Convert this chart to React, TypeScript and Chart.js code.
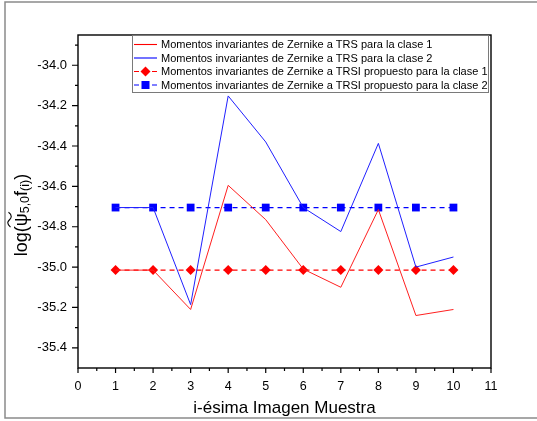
import React, { useEffect, useRef } from "react";
import { Chart, registerables } from "chart.js";

Chart.register(...registerables);

const muestras = [1, 2, 3, 4, 5, 6, 7, 8, 9, 10];
const trsClase1 = [-35.015, -35.015, -35.21, -34.595, -34.765, -35.01, -35.1, -34.715, -35.24, -35.21];
const trsClase2 = [-34.705, -34.705, -35.186, -34.152, -34.38, -34.705, -34.824, -34.387, -35.0, -34.95];
const trsiClase1 = [-35.015, -35.015, -35.015, -35.015, -35.015, -35.015, -35.015, -35.015, -35.015, -35.015];
const trsiClase2 = [-34.705, -34.705, -34.705, -34.705, -34.705, -34.705, -34.705, -34.705, -34.705, -34.705];

const legendLabels = [
  "Momentos invariantes de Zernike a TRS para la clase 1",
  "Momentos invariantes de Zernike a TRS para la clase 2",
  "Momentos invariantes de Zernike a TRSI propuesto para la clase 1",
  "Momentos invariantes de Zernike a TRSI propuesto para la clase 2",
];
const xTitle = "i-ésima Imagen Muestra";
const xMajorTicks = [0, 1, 2, 3, 4, 5, 6, 7, 8, 9, 10, 11];
const xMinorTicks = [0.5, 1.5, 2.5, 3.5, 4.5, 5.5, 6.5, 7.5, 8.5, 9.5, 10.5];
const yMajorTicks = [-35.4, -35.2, -35.0, -34.8, -34.6, -34.4, -34.2, -34.0];
const yMinorTicks = [-35.3, -35.1, -34.9, -34.7, -34.5, -34.3, -34.1, -33.9];

const FONT = "'Liberation Sans', Arial, sans-serif";

const framePlugin = {
  id: "frameAndExtras",
  beforeDraw(chart: any) {
    const ctx = chart.ctx;
    ctx.save();
    ctx.fillStyle = "#ffffff";
    ctx.fillRect(0, 0, chart.width, chart.height);
    ctx.strokeStyle = "#8a8a8a";
    ctx.lineWidth = 1.5;
    ctx.beginPath();
    ctx.moveTo(chart.width, 2);
    ctx.lineTo(5, 2);
    ctx.lineTo(5, 418);
    ctx.lineTo(chart.width, 418);
    ctx.stroke();
    ctx.restore();
  },
  afterDatasetsDraw(chart: any) {
    const ctx = chart.ctx;
    const { left, right, top, bottom } = chart.chartArea;
    const xs = chart.scales.x;
    const ys = chart.scales.y;
    ctx.save();
    ctx.strokeStyle = "#000000";
    ctx.lineWidth = 1.4;
    ctx.strokeRect(left, top, right - left, bottom - top);
    ctx.lineWidth = 1.2;
    ctx.beginPath();
    xMajorTicks.forEach((v) => {
      const px = xs.getPixelForValue(v);
      ctx.moveTo(px, bottom);
      ctx.lineTo(px, bottom + 5);
    });
    xMinorTicks.forEach((v) => {
      const px = xs.getPixelForValue(v);
      ctx.moveTo(px, bottom);
      ctx.lineTo(px, bottom + 3);
    });
    yMajorTicks.forEach((v) => {
      const py = ys.getPixelForValue(v);
      ctx.moveTo(left, py);
      ctx.lineTo(left - 6, py);
    });
    yMinorTicks.forEach((v) => {
      const py = ys.getPixelForValue(v);
      ctx.moveTo(left, py);
      ctx.lineTo(left - 3, py);
    });
    ctx.stroke();

    ctx.fillStyle = "#000000";
    ctx.font = `17px ${FONT}`;
    ctx.textAlign = "center";
    ctx.textBaseline = "middle";
    ctx.fillText(xTitle, (left + right) / 2, 408);

    ctx.save();
    ctx.translate(22, 215);
    ctx.rotate(-Math.PI / 2);
    const big = `18px ${FONT}`;
    const small = `12.5px ${FONT}`;
    const parts: { t: string; f: string; dy: number; psi?: boolean }[] = [
      { t: "log(", f: big, dy: 0 },
      { t: "ψ", f: big, dy: 0, psi: true },
      { t: "5,0", f: small, dy: 4 },
      { t: "f", f: big, dy: 0 },
      { t: "(i)", f: small, dy: 4 },
      { t: ")", f: big, dy: 0 },
    ];
    let total = 0;
    parts.forEach((p) => {
      ctx.font = p.f;
      total += ctx.measureText(p.t).width;
    });
    let x = -total / 2;
    ctx.textAlign = "left";
    ctx.textBaseline = "middle";
    parts.forEach((p) => {
      ctx.font = p.f;
      const w = ctx.measureText(p.t).width;
      ctx.fillText(p.t, x, p.dy);
      if (p.psi) {
        ctx.beginPath();
        ctx.lineWidth = 1.1;
        const y0 = -12.5;
        ctx.moveTo(x - 1, y0 + 1);
        ctx.bezierCurveTo(x + w * 0.2, y0 - 3, x + w * 0.35, y0 - 2, x + w * 0.5, y0);
        ctx.bezierCurveTo(x + w * 0.65, y0 + 2, x + w * 0.85, y0 + 3, x + w + 1, y0 - 1);
        ctx.stroke();
      }
      x += w;
    });
    ctx.restore();
    ctx.restore();
  },
  afterDraw(chart: any) {
    const ctx = chart.ctx;
    ctx.save();
    const bx = 132, by = 35, bw = 357, bh = 58;
    ctx.fillStyle = "#ffffff";
    ctx.fillRect(bx, by, bw, bh);
    ctx.strokeStyle = "#7a7a7a";
    ctx.lineWidth = 1;
    ctx.strokeRect(bx + 0.5, by + 0.5, bw - 1, bh - 1);
    const rows = [44.5, 58, 71.5, 85];
    const colors = ["#ff0000", "#0000ff", "#ff0000", "#0000ff"];
    chart.data.datasets.forEach((ds: any, i: number) => {
      const y = rows[i];
      ctx.strokeStyle = colors[i];
      ctx.lineWidth = 1.1;
      ctx.setLineDash(i >= 2 ? [5, 4] : []);
      ctx.beginPath();
      ctx.moveTo(134, y);
      ctx.lineTo(157, y);
      ctx.stroke();
      ctx.setLineDash([]);
      ctx.fillStyle = colors[i];
      if (i === 2) {
        ctx.beginPath();
        ctx.moveTo(145.5 - 5, y);
        ctx.lineTo(145.5, y - 5);
        ctx.lineTo(145.5 + 5, y);
        ctx.lineTo(145.5, y + 5);
        ctx.closePath();
        ctx.fill();
      } else if (i === 3) {
        ctx.fillRect(145.5 - 4, y - 4, 8, 8);
      }
      ctx.fillStyle = "#000000";
      ctx.font = `11px ${FONT}`;
      ctx.textAlign = "left";
      ctx.textBaseline = "middle";
      ctx.fillText(legendLabels[i], 161, y + 0.5);
    });
    ctx.restore();
  },
};

export default function App() {
  const ref = useRef<HTMLCanvasElement | null>(null);
  useEffect(() => {
    document.body.style.margin = "0";
    const canvas = ref.current;
    if (!canvas) return;
    const mk = (arr: number[]) => muestras.map((m, i) => ({ x: m, y: arr[i] }));
    const chart = new Chart(canvas, {
      type: "line",
      data: {
        datasets: [
          {
            label: legendLabels[0],
            data: mk(trsClase1),
            borderColor: "#ff2020",
            borderWidth: 1,
            pointRadius: 0,
            tension: 0,
          },
          {
            label: legendLabels[1],
            data: mk(trsClase2),
            borderColor: "#2020ff",
            borderWidth: 1,
            pointRadius: 0,
            tension: 0,
          },
          {
            label: legendLabels[2],
            data: mk(trsiClase1),
            borderColor: "#ff0000",
            backgroundColor: "#ff0000",
            borderWidth: 1.2,
            borderDash: [5, 4],
            pointStyle: "rectRot",
            pointRadius: 5,
            pointBorderWidth: 0,
            pointBorderColor: "#ff0000",
            pointBackgroundColor: "#ff0000",
            tension: 0,
          },
          {
            label: legendLabels[3],
            data: mk(trsiClase2),
            borderColor: "#0000ff",
            backgroundColor: "#0000ff",
            borderWidth: 1.2,
            borderDash: [5, 4],
            pointStyle: "rect",
            pointRadius: 5.5,
            pointBorderWidth: 0,
            pointBorderColor: "#0000ff",
            pointBackgroundColor: "#0000ff",
            tension: 0,
          },
        ],
      },
      options: {
        animation: false,
        responsive: false,
        devicePixelRatio: 1,
        layout: { padding: { left: 0, top: 35, right: 46, bottom: 0 } },
        plugins: { legend: { display: false }, tooltip: { enabled: false }, title: { display: false } },
        scales: {
          x: {
            type: "linear",
            min: 0,
            max: 11,
            grid: { display: false },
            border: { display: false },
            ticks: {
              stepSize: 1,
              autoSkip: false,
              maxRotation: 0,
              padding: 3,
              color: "#000000",
              font: { family: FONT, size: 12.5 },
              callback: (v: any) => String(v),
            },
            afterBuildTicks: (scale: any) => {
              scale.ticks = xMajorTicks.map((v) => ({ value: v }));
            },
            afterFit: (scale: any) => {
              scale.height = 53;
            },
          },
          y: {
            type: "linear",
            min: -35.5,
            max: -33.85,
            grid: { display: false },
            border: { display: false },
            ticks: {
              autoSkip: false,
              padding: 3,
              color: "#000000",
              font: { family: FONT, size: 13 },
              callback: (v: any) => Number(v).toFixed(1),
            },
            afterBuildTicks: (scale: any) => {
              scale.ticks = yMajorTicks.map((v) => ({ value: v }));
            },
            afterFit: (scale: any) => {
              scale.width = 78;
            },
          },
        },
      },
      plugins: [framePlugin],
    });
    return () => chart.destroy();
  }, []);
  return (
    <div style={{ width: 537, height: 421 }}>
      <canvas ref={ref} width={537} height={421} style={{ display: "block", width: 537, height: 421 }} />
    </div>
  );
}
